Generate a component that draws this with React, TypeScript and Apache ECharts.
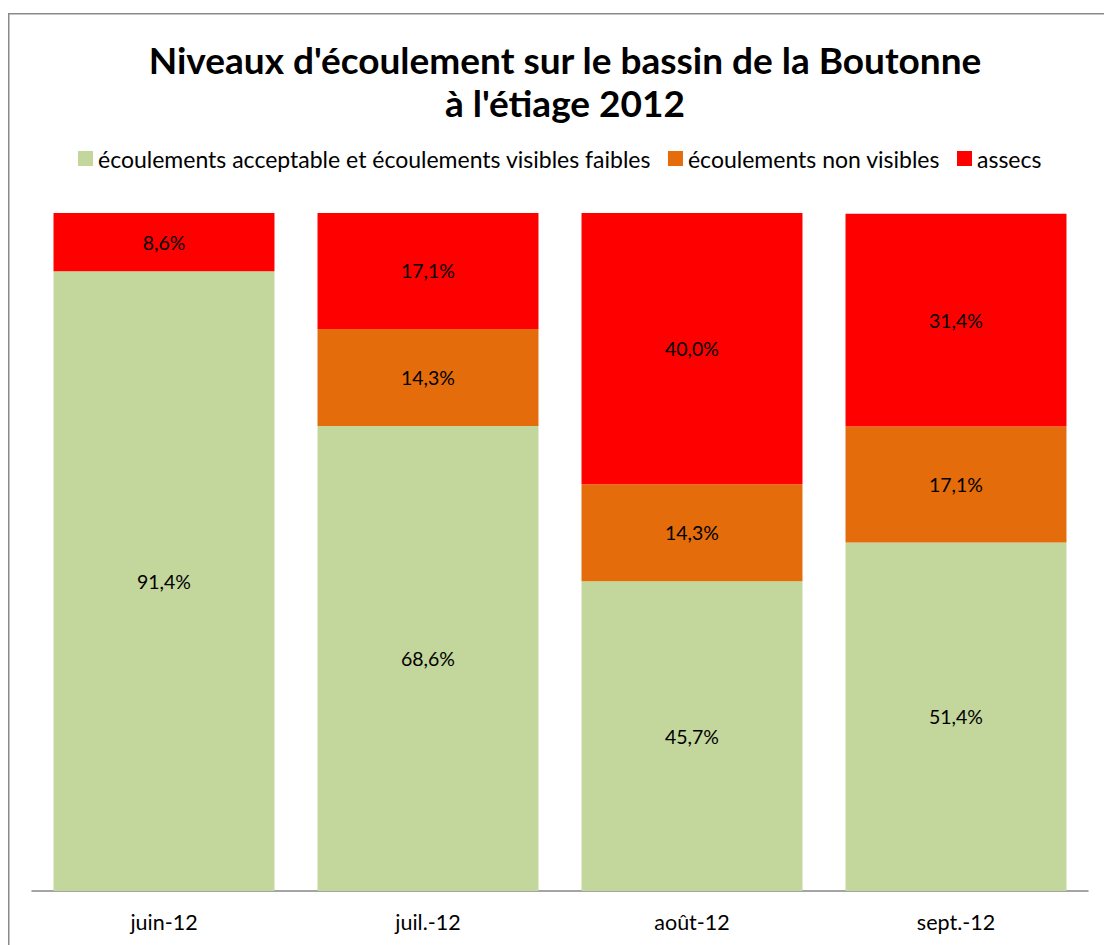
import React, { useEffect, useRef } from "react";
import * as echarts from "echarts";

const categories = ["juin-12", "juil.-12", "août-12", "sept.-12"];
const seriesNames = [
  "écoulements acceptable et écoulements visibles faibles",
  "écoulements non visibles",
  "assecs",
];
const acceptable = [91.4, 68.6, 45.7, 51.4];
const nonVisibles = [0, 14.3, 14.3, 17.1];
const assecs = [8.6, 17.1, 40.0, 31.4];
const colors = ["#C3D69B", "#E46C0A", "#FF0000"];

const FONT = "Lato";

export default function App() {
  const ref = useRef<HTMLDivElement>(null);
  useEffect(() => {
    if (!ref.current) return;
    const chart = echarts.init(ref.current, undefined, { renderer: "svg" });
    const fmt = (p: any) =>
      p.value === 0 ? "" : Number(p.value).toFixed(1).replace(".", ",") + "%";
    const mk = (name: string, data: number[], color: string) => ({
      name,
      type: "bar",
      stack: "total",
      data,
      barCategoryGap: "16.3%",
      itemStyle: { color },
      label: {
        show: true,
        position: "inside",
        formatter: fmt,
        color: "#000",
        fontFamily: FONT,
        fontSize: 19.5,
      },
    });
    chart.setOption({
      animation: false,
      backgroundColor: "#fff",
      title: {
        text: "Niveaux d'écoulement sur le bassin de la Boutonne\nà l'étiage 2012",
        left: 560,
        top: 33,
        textAlign: "center",
        textStyle: {
          fontFamily: FONT,
          fontWeight: "bold",
          fontSize: 37,
          lineHeight: 43,
          color: "#000",
        },
      },
      legend: {
        top: 142,
        left: 73,
        itemWidth: 15,
        itemHeight: 15,
        itemGap: 17,
        icon: "rect",
        textStyle: { fontFamily: FONT, fontSize: 23, color: "#000" },
        data: seriesNames,
      },
      grid: { left: 32, right: 16, top: 213, bottom: 54 },
      xAxis: {
        type: "category",
        data: categories,
        axisLine: { lineStyle: { color: "#868686", width: 1.5 } },
        axisTick: { show: false },
        axisLabel: { fontFamily: FONT, fontSize: 21.5, color: "#000", margin: 20 },
      },
      yAxis: { type: "value", min: 0, max: 100, show: false, splitLine: { show: false } },
      graphic: [
        {
          type: "rect",
          shape: { x: 8.75, y: 13.75, width: 1200, height: 1000 },
          style: { fill: "none", stroke: "#8a8a8a", lineWidth: 1.5 },
          silent: true,
        },
      ],
      series: [
        mk(seriesNames[0], acceptable, colors[0]),
        mk(seriesNames[1], nonVisibles, colors[1]),
        mk(seriesNames[2], assecs, colors[2]),
      ],
    });
    return () => chart.dispose();
  }, []);
  return (
    <div
      ref={ref}
      style={{ position: "fixed", left: 0, top: 0, width: 1104, height: 945 }}
    />
  );
}
